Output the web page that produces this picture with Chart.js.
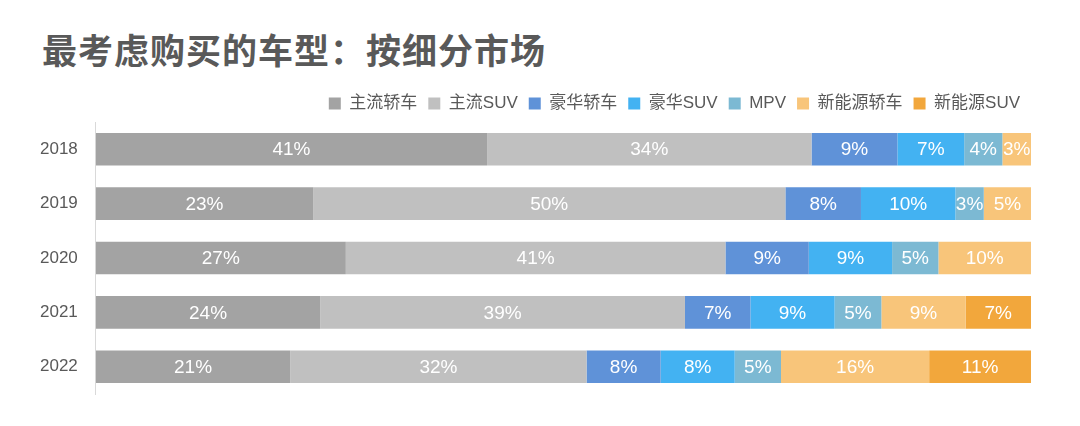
<!DOCTYPE html>
<html><head><meta charset="utf-8">
<script src="https://cdn.jsdelivr.net/npm/chart.js@4"></script>
<style>body{margin:0;background:#fff;width:1080px;height:426px;overflow:hidden;font-family:"Noto Sans CJK SC";}
#t{position:absolute;left:42px;top:23px;font-size:35px;font-weight:bold;color:#595959;letter-spacing:1px}
#w{position:absolute;left:0;top:84px;width:1031px;height:340px}</style></head>
<body><div id="t">最考虑购买的车型：按细分市场</div><div id="w"><canvas id="c"></canvas></div>
<script>
const years=['2018','2019','2020','2021','2022'];
const seriesNames=['主流轿车','主流SUV','豪华轿车','豪华SUV','MPV','新能源轿车','新能源SUV'];
const colors=['#a3a3a3','#c0c0c0','#5f92d8','#43b2f2','#7cb9d3','#f8c57a','#f2a73c'];
const s0=[41,23,27,24,21];
const s1=[34,50,41,39,32];
const s2=[9,8,9,7,8];
const s3=[7,10,9,9,8];
const s4=[4,3,5,5,5];
const s5=[3,5,10,9,16];
const s6=[0,0,0,7,11];
const raw=[s0,s1,s2,s3,s4,s5,s6];
const FF='"Liberation Sans","Noto Sans CJK SC"';
const sums=years.map((_,i)=>raw.reduce((a,s)=>a+s[i],0));
const lbl={id:'lbl',afterDatasetsDraw(ch){const x=ch.ctx;x.save();x.fillStyle='#fff';x.font='19px '+FF;x.textAlign='center';x.textBaseline='middle';
ch.data.datasets.forEach((d,di)=>{ch.getDatasetMeta(di).data.forEach((b,i)=>{const v=raw[di][i];if(!v)return;x.fillText(v+'%',(b.x+b.base)/2,b.y+1);});});x.restore();}};
new Chart(document.getElementById('c'),{type:'bar',
data:{labels:years,datasets:raw.map((s,k)=>({label:seriesNames[k],data:s.map((v,i)=>v/sums[i]*100),backgroundColor:colors[k],barPercentage:0.6,categoryPercentage:1}))},
options:{indexAxis:'y',responsive:true,maintainAspectRatio:false,animation:false,
layout:{padding:{left:30,right:0,top:0,bottom:30}},
plugins:{tooltip:{enabled:false},legend:{align:'end',labels:{boxWidth:12,boxHeight:12,padding:11,color:'#595959',font:{size:17,family:FF}}}},
scales:{x:{stacked:true,min:0,max:100,display:false},
y:{stacked:true,grid:{display:false},border:{color:'#d9d9d9'},ticks:{color:'#595959',padding:10,font:{size:17,family:FF}}}}},
plugins:[lbl]});
</script></body></html>
